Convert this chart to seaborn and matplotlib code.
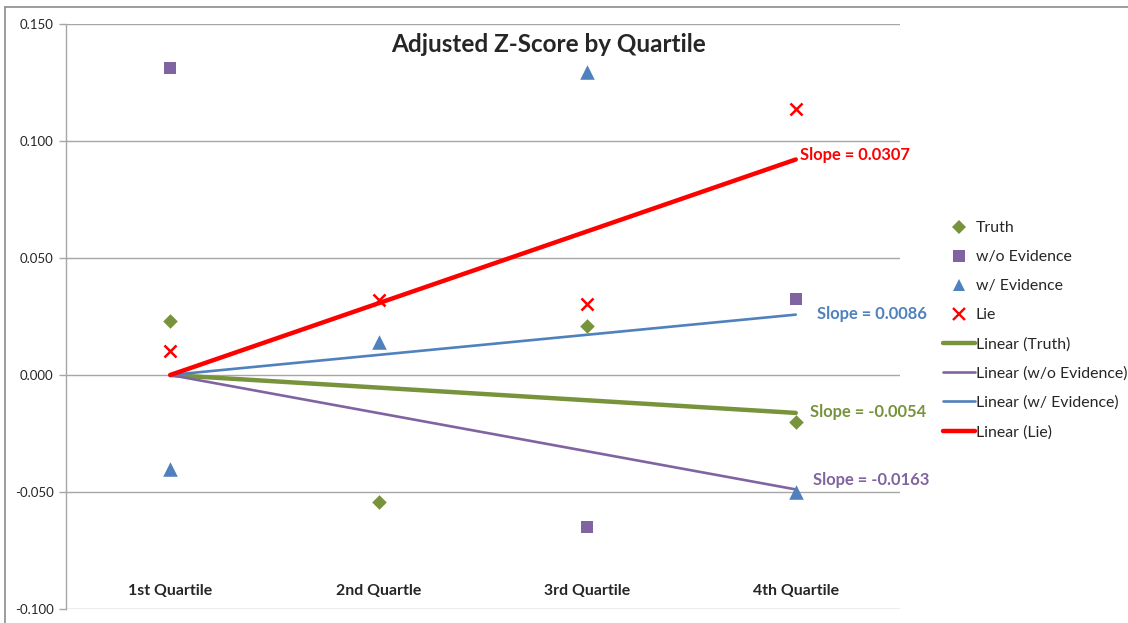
import numpy as np
import pandas as pd
import matplotlib
matplotlib.use("Agg")
import matplotlib.pyplot as plt
from matplotlib.lines import Line2D
import seaborn as sns

# data
quartiles = ["1st Quartile", "2nd Quartle", "3rd Quartile", "4th Quartile"]
truth = [0.0231, -0.0543, 0.0209, -0.0201]
wo_evidence = [0.1312, np.nan, -0.0650, 0.0325]
w_evidence = [-0.0402, 0.0141, 0.1295, -0.0500]
lie = [0.0103, 0.0320, 0.0303, 0.1137]

series_names = ["Truth", "w/o Evidence", "w/ Evidence", "Lie"]
slopes = [-0.0054, -0.0163, 0.0086, 0.0307]
slope_labels = ["Slope = -0.0054", "Slope = -0.0163", "Slope = 0.0086", "Slope = 0.0307"]

colors = {"Truth": "#77933C", "w/o Evidence": "#8064A2",
          "w/ Evidence": "#4F81BD", "Lie": "#FF0000"}
markers = {"Truth": "D", "w/o Evidence": "s", "w/ Evidence": "^", "Lie": "x"}
sizes = {"Truth": 55, "w/o Evidence": 75, "w/ Evidence": 110, "Lie": 75}
trend_width = {"Truth": 3.2, "w/o Evidence": 1.9, "w/ Evidence": 1.9, "Lie": 3.2}

x = np.arange(1, 5)
df = pd.DataFrame({
    "x": np.tile(x, 4),
    "value": truth + wo_evidence + w_evidence + lie,
    "series": np.repeat(series_names, 4),
})

sns.set_theme(style="white")
plt.rcParams["font.family"] = ["Lato", "DejaVu Sans"]
plt.rcParams["axes.unicode_minus"] = False

fig = plt.figure(figsize=(11.28, 6.23), dpi=100)
ax = fig.add_axes([66 / 1128, 1 - 609 / 623, (900 - 66) / 1128, (609 - 24) / 623])

# trendlines (intercept fixed at 0 at the first quartile)
for name, slope in zip(series_names, slopes):
    tdf = pd.DataFrame({"x": x, "y": slope * (x - 1)})
    sns.lineplot(data=tdf, x="x", y="y", ax=ax, color=colors[name],
                 linewidth=trend_width[name], zorder=2)

# scatter points
for name in series_names:
    sub = df[df["series"] == name]
    kw = dict(linewidth=1.8) if name == "Lie" else dict(linewidth=0)
    sns.scatterplot(data=sub, x="x", y="value", ax=ax, color=colors[name],
                    marker=markers[name], s=sizes[name], zorder=3, **kw)

# slope annotations
label_pos = {"Truth": (4.07, -0.0158), "w/o Evidence": (4.085, -0.0449),
             "w/ Evidence": (4.10, 0.0261), "Lie": (4.02, 0.0940)}
for name, text in zip(series_names, slope_labels):
    lx, ly = label_pos[name]
    ax.text(lx, ly, text, color=colors[name], fontsize=11.9, fontweight="bold",
            va="center", ha="left", clip_on=False)

ax.set_xlim(0.5, 4.5)
ax.set_ylim(-0.100, 0.150)
ax.set_yticks([-0.100, -0.050, 0.000, 0.050, 0.100, 0.150])
ax.set_yticklabels(["-0.100", "-0.050", "0.000", "0.050", "0.100", "0.150"])
ax.yaxis.grid(True, color="#a6a6a6", linewidth=1.0)
ax.set_axisbelow(True)
ax.set_xticks(x)
ax.set_xticklabels(quartiles, fontweight="bold", fontsize=11.4)
ax.tick_params(axis="x", length=0, pad=-18)
ax.tick_params(axis="y", length=5, width=1, color="#a6a6a6", labelsize=9.5,
               left=True, pad=4)
ax.set_xlabel("")
ax.set_ylabel("")
for side in ["top", "right", "bottom"]:
    ax.spines[side].set_visible(False)
ax.spines["left"].set_color("#a6a6a6")
ax.spines["left"].set_linewidth(1.0)

# title
fig.text(549 / 1128, 1 - 45 / 623, "Adjusted Z-Score by Quartile",
         fontsize=17.5, fontweight="bold", ha="center", va="center")

# legend
handles = []
for name in series_names:
    if name == "Lie":
        h = Line2D([], [], linestyle="none", marker="x", color=colors[name],
                   markersize=9, markeredgewidth=1.7)
    else:
        h = Line2D([], [], linestyle="none", marker=markers[name], color=colors[name],
                   markersize={"Truth": 7, "w/o Evidence": 8.5, "w/ Evidence": 9}[name],
                   markeredgewidth=0)
    handles.append(h)
for name in series_names:
    handles.append(Line2D([], [], color=colors[name], linewidth=trend_width[name]))
labels = series_names + ["Linear (Truth)", "Linear (w/o Evidence)",
                         "Linear (w/ Evidence)", "Linear (Lie)"]
fig.legend(handles, labels, loc="upper left",
           bbox_to_anchor=(937 / 1128, 1 - 215 / 623), frameon=False,
           fontsize=11.4, handlelength=2.0, handletextpad=0.05,
           labelspacing=0.94, borderaxespad=0)

# outer chart frame (top and left edges visible)
fig.add_artist(Line2D([5 / 1128, 1], [1 - 7 / 623, 1 - 7 / 623],
                      transform=fig.transFigure, color="#8c8c8c", linewidth=1.2))
fig.add_artist(Line2D([5 / 1128, 5 / 1128], [0, 1 - 7 / 623],
                      transform=fig.transFigure, color="#8c8c8c", linewidth=1.2))

fig.savefig("out.png", dpi=100)
